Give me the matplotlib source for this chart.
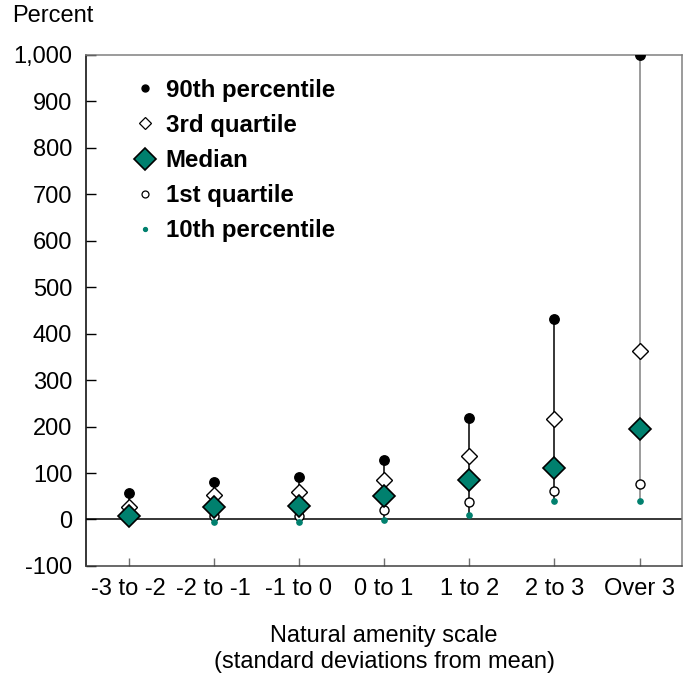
import matplotlib.pyplot as plt
from matplotlib.lines import Line2D
from matplotlib.ticker import FuncFormatter

plt.rcParams['font.family'] = ['Liberation Sans', 'DejaVu Sans']

categorias = ["-3 to -2", "-2 to -1", "-1 to 0", "0 to 1", "1 to 2", "2 to 3", "Over 3"]
p90 = [56, 81, 92, 129, 219, 432, 1000]
q3 = [26, 52, 60, 86, 136, 217, 362]
mediana = [7, 26, 29, 50, 85, 110, 194]
q1 = [2, 7, 7, 21, 38, 62, 77]
p10 = [-2, -5, -6, -1, 10, 39, 39]

verde = '#00806E'
cor_linha = ['black'] * 6 + ['#808080']

fig = plt.figure(figsize=(6.96, 6.77), dpi=100)
ax = fig.add_axes([0.1236, 0.164, 0.8564, 0.7552])

x = list(range(len(categorias)))

# linha do zero
ax.axhline(0, color='black', lw=1.1, zorder=1)

# linhas verticais do 10o ao 90o percentil
for i in x:
    ax.plot([i, i], [p10[i], p90[i]], color=cor_linha[i], lw=1.1, zorder=2)

ax.plot(x, p90, 'o', color='black', ms=6.8, zorder=3, ls='none')
ax.plot(x, q3, 'D', mfc='white', mec='black', mew=1.0, ms=7.8, zorder=3, ls='none')
ax.plot(x, q1, 'o', mfc='white', mec='black', mew=1.0, ms=6.5, zorder=4, ls='none')
ax.plot(x, p10, 'o', color=verde, ms=3.8, zorder=4, ls='none')
ax.plot(x, mediana, 'D', mfc=verde, mec='black', mew=1.2, ms=11, zorder=5, ls='none')

ax.set_xlim(-0.5, 6.5)
ax.set_ylim(-100, 1000)
ax.set_yticks(range(-100, 1001, 100))
ax.yaxis.set_major_formatter(FuncFormatter(lambda v, p: f"{int(v):,}"))
ax.set_xticks(x)
ax.set_xticklabels(categorias)

ax.tick_params(axis='y', direction='in', length=7, width=1, labelsize=17, pad=10)
ax.tick_params(axis='x', direction='in', length=6, width=1, color='#707070', labelsize=17, pad=9)

ax.spines['left'].set_color('black')
ax.spines['bottom'].set_color('#404040')
ax.spines['top'].set_color('#808080')
ax.spines['right'].set_color('#808080')
for s in ax.spines.values():
    s.set_linewidth(1.1)

ax.set_xlabel("Natural amenity scale\n(standard deviations from mean)", fontsize=17, labelpad=18, linespacing=1.2)
fig.text(0.018, 0.993, "Percent", fontsize=17, ha='left', va='top')

handles = [
    Line2D([], [], marker='o', color='black', ms=5, ls='none'),
    Line2D([], [], marker='D', mfc='white', mec='black', mew=0.9, ms=6.5, ls='none'),
    Line2D([], [], marker='D', mfc=verde, mec='black', mew=1.2, ms=11.5, ls='none'),
    Line2D([], [], marker='o', mfc='white', mec='black', mew=0.9, ms=5, ls='none'),
    Line2D([], [], marker='o', color=verde, ms=2.8, ls='none'),
]
nomes = ["90th percentile", "3rd quartile", "Median", "1st quartile", "10th percentile"]
leg = ax.legend(handles, nomes, loc='upper left', bbox_to_anchor=(0.043, 0.995), frameon=False,
                prop={'weight': 'bold', 'size': 17.3}, labelspacing=0.5, handletextpad=0.35,
                handlelength=1.0)

fig.savefig("out.png", dpi=100)
